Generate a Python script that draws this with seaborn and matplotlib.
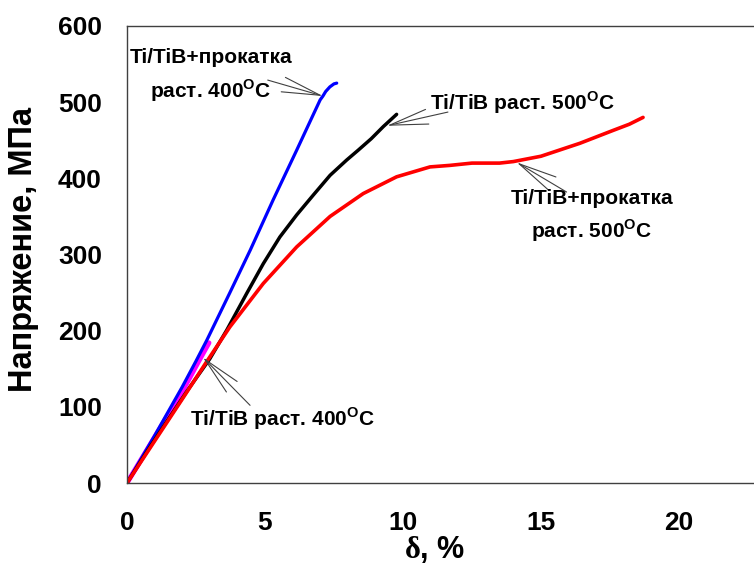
import matplotlib
matplotlib.use('Agg')
import matplotlib.pyplot as plt
import seaborn as sns

# curves: strain delta (%) vs stress (MPa)
blue_x = [0, 0.5, 1.0, 1.5, 2.0, 2.5, 2.9, 3.73, 4.47, 5.3, 6.15, 6.6, 7.0, 7.1, 7.2, 7.35, 7.5, 7.6]
blue_y = [0, 31, 62, 94, 126, 160, 188, 250, 306, 372, 437, 472, 503, 508, 514, 520, 524, 525]

black_x = [0, 0.7, 1.5, 2.2, 3.0, 3.62, 4.34, 4.94, 5.54, 6.15, 6.75, 7.36, 7.96, 8.38, 8.85, 9.29, 9.77]
black_y = [0, 40, 84, 122, 163, 201, 249, 288, 323, 352, 378, 404, 424, 437, 452, 468, 484]

red_x = [0, 1, 2, 2.9, 3.73, 4.94, 6.15, 7.36, 8.56, 9.77, 10.98, 11.7, 12.5, 13.5, 14.0, 15.0, 16.41, 17.62, 18.2, 18.7]
red_y = [0, 55, 110, 160, 205, 262, 310, 350, 380, 402, 415, 417, 420, 420, 422, 429, 446, 463, 471, 480]

pink_x = [0, 1, 2, 2.6, 2.97]
pink_y = [0, 60, 120, 160, 184]

# annotation labels, where they sit and the arrows pointing to the curves
labels = ['Ti/TiB+прокатка\nраст. 400$^\\mathbf{O}$C',
          'Ti/TiB раст. 500$^\\mathbf{O}$C',
          'Ti/TiB+прокатка\nраст. 500$^\\mathbf{O}$C',
          'Ti/TiB раст. 400$^\\mathbf{O}$C']
label_pos = [(3.04, 534), (14.35, 499), (16.85, 350), (5.65, 85)]
arrow_tail = [(5.1, 529), (11.63, 487), (15.93, 382), (4.46, 102)]
arrow_head = [(7.1, 508), (9.42, 469), (14.12, 421), (2.75, 165)]

xticks = [0, 5, 10, 15, 20]
yticks = [0, 100, 200, 300, 400, 500, 600]

sns.set_style('white')
plt.rcParams['font.family'] = ['Liberation Sans', 'DejaVu Sans']
plt.rcParams['font.weight'] = 'bold'
plt.rcParams['text.color'] = 'black'
plt.rcParams['axes.labelcolor'] = 'black'
plt.rcParams['xtick.color'] = 'black'
plt.rcParams['ytick.color'] = 'black'
plt.rcParams['mathtext.fontset'] = 'custom'
plt.rcParams['mathtext.rm'] = 'Liberation Serif'
plt.rcParams['mathtext.bf'] = 'Liberation Sans:bold'

fig = plt.figure(figsize=(7.54, 5.70), dpi=100)
ax = fig.add_axes([0.1684, 0.1526, 0.8316, 0.8018])

# magenta first so the others lie over it
sns.lineplot(x=pink_x, y=pink_y, color='#ff00ff', linewidth=3.6, sort=False, ax=ax)
sns.lineplot(x=blue_x, y=blue_y, color='#0000ff', linewidth=2.3, sort=False, ax=ax)
sns.lineplot(x=black_x, y=black_y, color='black', linewidth=2.5, sort=False, ax=ax)
sns.lineplot(x=red_x, y=red_y, color='#ff0000', linewidth=2.6, sort=False, ax=ax)
for ln in ax.get_lines():
    ln.set_solid_joinstyle('round')

for txt, pos, tail, head in zip(labels, label_pos, arrow_tail, arrow_head):
    ax.annotate('', xy=head, xytext=tail,
                arrowprops=dict(arrowstyle='->,head_length=2.3,head_width=0.45',
                                color='#404040', lw=0.8, mutation_scale=12,
                                shrinkA=0, shrinkB=0))
    ax.text(pos[0], pos[1], txt, ha='center', va='center', fontsize=15,
            fontweight='bold', linespacing=1.5, multialignment='center')

ax.set_xlim(0, 22.72)
ax.set_ylim(0, 600)
ax.set_xticks(xticks)
ax.set_yticks(yticks)
ax.tick_params(axis='both', direction='out', length=5, width=1, color='#404040',
               labelsize=19, pad=13)
ax.tick_params(axis='x', pad=15)
for t in ax.get_xticklabels() + ax.get_yticklabels():
    t.set_fontweight('bold')

for side in ['left', 'bottom', 'top']:
    ax.spines[side].set_color('#404040')
    ax.spines[side].set_linewidth(1)
ax.spines['right'].set_visible(False)

ax.set_ylabel('Напряжение, МПа', fontsize=23.5, fontweight='bold')
ax.yaxis.set_label_coords(-0.14, 0.51)
ax.set_xlabel('$\\mathrm{δ}$, %', fontsize=22, fontweight='bold')
ax.xaxis.set_label_coords(0.491, -0.112)

plt.savefig('out.png', dpi=100)
